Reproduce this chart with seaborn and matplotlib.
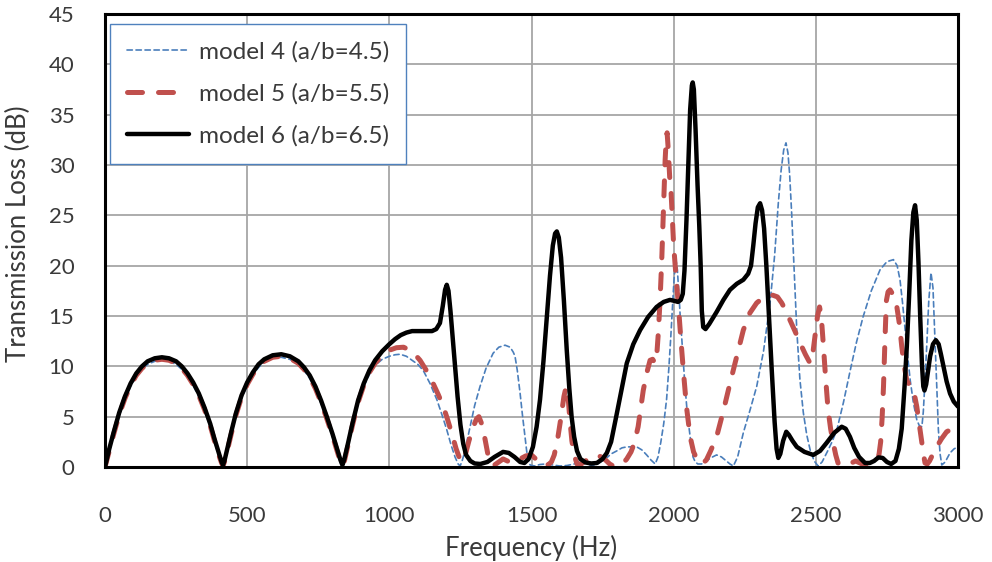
import numpy as np
import pandas as pd
import matplotlib
matplotlib.use('Agg')
import matplotlib.pyplot as plt
import seaborn as sns

# (frequency Hz, transmission loss dB)
model6 = [
    (0, 0), (15, 1.8), (30, 3.4), (50, 5.4), (70, 7.0), (90, 8.3), (110, 9.3), (130, 10.0), (150, 10.5),
    (175, 10.8), (200, 10.9), (225, 10.8), (250, 10.5), (270, 10.0), (290, 9.3), (310, 8.4), (330, 7.3),
    (350, 5.9), (370, 4.3), (385, 2.8), (400, 1.4), (410, 0.5), (415, 0.2), (420, 0.6), (430, 1.8),
    (445, 3.6), (460, 5.3), (480, 7.1), (500, 8.4), (520, 9.4), (540, 10.2), (560, 10.7), (590, 11.1),
    (620, 11.2), (650, 11.0), (680, 10.5), (700, 9.9), (720, 9.1), (740, 8.0), (760, 6.6), (780, 5.0),
    (800, 3.3), (815, 1.9), (828, 0.7), (835, 0.2), (842, 0.8), (855, 2.4), (870, 4.3), (890, 6.6),
    (910, 8.3), (930, 9.6), (950, 10.6), (975, 11.5), (1000, 12.2), (1020, 12.7), (1040, 13.1),
    (1060, 13.35), (1080, 13.5), (1120, 13.5), (1150, 13.5), (1165, 13.7), (1178, 14.3), (1188, 16.0),
    (1196, 17.6), (1202, 18.1), (1208, 17.5), (1215, 15.5), (1223, 12.8), (1231, 10.2), (1240, 7.0),
    (1250, 4.2), (1260, 2.3), (1270, 1.2), (1285, 0.6), (1300, 0.35), (1320, 0.3), (1345, 0.5),
    (1370, 1.0), (1400, 1.5), (1420, 1.4), (1440, 1.0), (1460, 0.5), (1475, 0.4), (1490, 0.8),
    (1505, 2.0), (1518, 4.0), (1530, 6.7), (1542, 10.5), (1554, 15.0), (1565, 19.0), (1575, 22.0),
    (1583, 23.2), (1589, 23.4), (1596, 22.8), (1604, 20.8), (1614, 16.5), (1624, 11.6), (1633, 7.8),
    (1641, 5.0), (1650, 3.0), (1660, 1.6), (1672, 0.8), (1690, 0.45), (1710, 0.35), (1730, 0.4),
    (1750, 0.8), (1765, 1.4), (1780, 2.5), (1800, 5.3), (1818, 7.9), (1835, 10.3), (1858, 12.2),
    (1882, 13.6), (1910, 14.9), (1940, 15.9), (1965, 16.4), (1987, 16.6), (2003, 16.5), (2015, 16.4),
    (2025, 16.6), (2032, 17.2), (2038, 19.5), (2045, 24.5), (2052, 30.5), (2058, 35.5), (2064, 37.9),
    (2067, 38.2), (2071, 37.5), (2077, 33.5), (2084, 28.0), (2090, 24.0), (2095, 20.0), (2099, 15.5),
    (2104, 13.9), (2112, 13.7), (2125, 14.2), (2140, 14.9), (2151, 15.4), (2175, 16.6), (2198, 17.6),
    (2222, 18.2), (2245, 18.6), (2262, 19.2), (2272, 20.0), (2280, 22.0), (2288, 24.2), (2296, 25.8),
    (2304, 26.2), (2311, 25.5), (2318, 23.7), (2326, 20.0), (2335, 15.0), (2345, 9.6), (2355, 4.5),
    (2362, 1.8), (2368, 0.9), (2375, 1.3), (2385, 2.6), (2396, 3.5), (2405, 3.2), (2418, 2.6),
    (2433, 2.0), (2460, 1.5), (2491, 1.2), (2515, 1.6), (2538, 2.4), (2565, 3.4), (2591, 4.0),
    (2605, 3.8), (2620, 3.0), (2635, 1.9), (2652, 1.0), (2673, 0.4), (2690, 0.4), (2705, 0.6),
    (2720, 0.95), (2735, 0.9), (2750, 0.5), (2765, 0.3), (2780, 0.6), (2792, 1.8), (2802, 3.8),
    (2812, 8.0), (2820, 12.0), (2828, 17.0), (2836, 22.5), (2843, 25.3), (2849, 26.0), (2855, 24.5),
    (2861, 20.3), (2867, 15.0), (2873, 10.3), (2878, 8.0), (2882, 7.6), (2888, 8.2), (2895, 9.6),
    (2902, 11.0), (2912, 12.2), (2922, 12.6), (2932, 12.2), (2940, 11.2), (2949, 10.0), (2960, 8.5),
    (2972, 7.3), (2985, 6.5), (3000, 6.0)]

model5 = [
    (0, 0), (15, 1.6), (30, 3.2), (50, 5.2), (70, 6.8), (90, 8.1), (110, 9.1), (130, 9.8), (150, 10.3),
    (175, 10.6), (200, 10.7), (225, 10.6), (250, 10.3), (270, 9.8), (290, 9.1), (310, 8.2), (330, 7.1),
    (350, 5.7), (370, 4.1), (385, 2.6), (400, 1.2), (410, 0.4), (415, 0.1), (420, 0.5), (430, 1.6),
    (445, 3.4), (460, 5.1), (480, 6.9), (500, 8.2), (520, 9.2), (540, 10.0), (560, 10.5), (590, 10.9),
    (620, 11.0), (650, 10.8), (680, 10.3), (700, 9.7), (720, 8.9), (740, 7.8), (760, 6.4), (780, 4.8),
    (800, 3.1), (815, 1.7), (828, 0.5), (835, 0.1), (842, 0.6), (855, 2.2), (870, 4.1), (890, 6.4),
    (910, 8.1), (930, 9.4), (950, 10.3), (975, 11.1), (1000, 11.6), (1025, 11.85), (1050, 11.9),
    (1080, 11.5), (1108, 10.6), (1130, 9.6), (1154, 8.3), (1172, 7.2), (1190, 6.0), (1205, 4.7),
    (1219, 3.4), (1235, 1.8), (1249, 0.7), (1258, 0.5), (1268, 1.3), (1280, 2.6), (1295, 4.0),
    (1307, 4.8), (1315, 5.0), (1326, 4.2), (1337, 2.7), (1347, 1.2), (1355, 0.3), (1370, 0.2),
    (1385, 0.5), (1400, 0.8), (1415, 0.6), (1430, 0.4), (1445, 0.5), (1460, 0.8), (1480, 1.1),
    (1500, 1.2), (1515, 0.8), (1530, 0.3), (1545, 0.15), (1560, 0.25), (1570, 0.5), (1580, 1.2),
    (1592, 2.8), (1603, 4.8), (1614, 7.0), (1622, 8.0), (1628, 7.2), (1635, 4.7), (1642, 2.6),
    (1650, 1.2), (1660, 0.3), (1675, 0.3), (1690, 0.6), (1710, 1.0), (1729, 1.2), (1745, 1.0),
    (1760, 0.7), (1775, 0.3), (1787, 0.1), (1805, 0.1), (1820, 0.3), (1835, 0.8), (1850, 1.5),
    (1862, 2.4), (1875, 4.0), (1893, 7.6), (1905, 9.3), (1917, 10.6), (1926, 10.7), (1935, 10.3),
    (1941, 11.3), (1946, 13.3), (1952, 16.5), (1958, 20.5), (1964, 25.5), (1970, 30.5), (1974, 32.7),
    (1977, 33.2), (1981, 31.5), (1986, 28.8), (1990, 27.8), (1994, 25.5), (2000, 22.0), (2008, 19.0),
    (2016, 16.3), (2025, 12.8), (2034, 9.6), (2045, 6.0), (2058, 3.0), (2070, 1.5), (2085, 0.6),
    (2100, 0.3), (2115, 0.7), (2130, 1.6), (2151, 3.0), (2175, 5.6), (2198, 8.3), (2222, 11.0),
    (2245, 13.6), (2268, 15.3), (2292, 16.3), (2318, 16.9), (2345, 17.1), (2365, 16.9), (2380, 16.3),
    (2395, 15.5), (2409, 14.6), (2425, 13.6), (2445, 12.3), (2463, 11.2), (2480, 10.3), (2489, 11.2),
    (2497, 13.0), (2506, 15.0), (2513, 15.9), (2519, 15.0), (2526, 12.3), (2534, 9.0), (2543, 5.7),
    (2552, 3.8), (2561, 2.4), (2570, 1.2), (2578, 0.4), (2595, 0.15), (2610, 0.2), (2625, 0.4),
    (2640, 0.6), (2655, 0.4), (2670, 0.2), (2685, 0.4), (2702, 0.9), (2715, 0.9), (2722, 1.2),
    (2728, 2.5), (2733, 4.8), (2738, 8.0), (2743, 12.5), (2748, 16.5), (2754, 17.4), (2761, 17.6),
    (2772, 17.1), (2785, 15.9), (2795, 14.0), (2802, 12.0), (2811, 10.0), (2820, 8.6), (2828, 8.2),
    (2837, 8.0), (2846, 7.3), (2855, 6.0), (2864, 4.2), (2873, 2.4), (2879, 1.2), (2884, 0.4),
    (2892, 0.3), (2900, 0.6), (2912, 1.3), (2925, 2.0), (2942, 2.8), (2960, 3.5), (2980, 3.8),
    (3000, 3.8)]

model4 = [
    (0, 0), (15, 1.5), (30, 3.1), (50, 5.1), (70, 6.7), (90, 8.0), (110, 9.0), (130, 9.7), (150, 10.2),
    (175, 10.5), (200, 10.6), (225, 10.5), (250, 10.2), (270, 9.7), (290, 9.0), (310, 8.1), (330, 7.0),
    (350, 5.6), (370, 4.0), (385, 2.5), (400, 1.1), (410, 0.3), (415, 0.05), (420, 0.4), (430, 1.5),
    (445, 3.3), (460, 5.0), (480, 6.8), (500, 8.1), (520, 9.1), (540, 9.9), (560, 10.4), (590, 10.8),
    (620, 10.9), (650, 10.7), (680, 10.2), (700, 9.6), (720, 8.8), (740, 7.7), (760, 6.3), (780, 4.7),
    (800, 3.0), (815, 1.6), (828, 0.4), (835, 0.05), (842, 0.5), (855, 2.1), (870, 4.0), (890, 6.3),
    (910, 8.0), (930, 9.2), (950, 10.1), (975, 10.7), (1000, 11.0), (1020, 11.15), (1038, 11.2),
    (1060, 11.0), (1080, 10.6), (1100, 10.2), (1119, 9.6), (1143, 8.3), (1167, 6.7), (1185, 5.2),
    (1202, 3.7), (1217, 2.2), (1231, 1.0), (1242, 0.3), (1249, 0.1), (1256, 0.6), (1265, 1.5),
    (1275, 2.8), (1284, 4.0), (1300, 6.1), (1319, 8.0), (1340, 9.8), (1365, 11.3), (1385, 11.9),
    (1407, 12.1), (1425, 11.9), (1436, 11.4), (1442, 11.0), (1450, 9.6), (1460, 7.3), (1468, 5.2),
    (1477, 3.0), (1483, 1.6), (1488, 0.7), (1495, 0.2), (1510, 0.1), (1530, 0.25), (1550, 0.3),
    (1575, 0.2), (1600, 0.1), (1625, 0.15), (1650, 0.3), (1668, 0.6), (1682, 0.7), (1695, 0.4),
    (1710, 0.1), (1735, 0.35), (1760, 0.8), (1780, 1.3), (1800, 1.6), (1818, 1.9), (1835, 2.0),
    (1853, 2.0), (1870, 2.0), (1888, 1.7), (1905, 1.2), (1920, 0.7), (1935, 0.3), (1945, 1.0),
    (1955, 2.5), (1965, 4.3), (1975, 6.7), (1983, 9.8), (1990, 13.0), (1996, 16.0), (2001, 18.5),
    (2006, 20.2), (2009, 20.4), (2013, 19.6), (2018, 17.4), (2023, 15.0), (2028, 13.0), (2034, 10.4),
    (2040, 8.0), (2048, 5.3), (2058, 3.0), (2068, 1.0), (2076, 0.5), (2085, 0.3), (2098, 0.3),
    (2110, 0.5), (2130, 0.9), (2151, 1.2), (2168, 1.0), (2185, 0.6), (2198, 0.3), (2210, 0.1),
    (2225, 1.0), (2245, 3.4), (2268, 5.6), (2292, 8.0), (2316, 11.5), (2339, 16.3), (2355, 21.0),
    (2368, 26.2), (2378, 29.5), (2387, 31.5), (2395, 32.2), (2402, 31.2), (2408, 29.0), (2415, 25.2),
    (2424, 19.5), (2433, 13.6), (2444, 8.7), (2456, 5.4), (2468, 3.2), (2480, 1.7), (2494, 0.6),
    (2508, 0.1), (2522, 0.5), (2540, 1.5), (2557, 2.5), (2574, 3.7), (2597, 6.4), (2621, 9.6),
    (2643, 12.4), (2666, 14.9), (2695, 17.5), (2726, 19.6), (2750, 20.4), (2773, 20.6), (2786, 20.0),
    (2796, 18.6), (2805, 16.3), (2814, 13.6), (2823, 11.0), (2832, 8.6), (2843, 6.4), (2855, 4.7),
    (2864, 4.1), (2873, 4.0), (2878, 5.5), (2884, 8.6), (2890, 12.0), (2897, 16.4), (2905, 19.3),
    (2912, 17.8), (2920, 12.0), (2926, 7.5), (2931, 3.7), (2937, 1.3), (2943, 0.2), (2955, 0.5),
    (2972, 1.4), (2986, 1.8), (3000, 2.0)]

labels = ['model 4 (a/b=4.5)', 'model 5 (a/b=5.5)', 'model 6 (a/b=6.5)']
x_ticks = [0, 500, 1000, 1500, 2000, 2500, 3000]
y_ticks = [0, 5, 10, 15, 20, 25, 30, 35, 40, 45]

sns.set_theme(style='whitegrid')
plt.rcParams['font.family'] = ['Lato', 'DejaVu Sans']

fig, ax = plt.subplots(figsize=(9.92, 5.62), dpi=100)
fig.subplots_adjust(left=105 / 992, right=958 / 992, bottom=1 - 467 / 562, top=1 - 14 / 562)

styles = [
    dict(color='#4a7ebb', lw=1.2, linestyle=(0, (3.2, 2.2))),
    dict(color='#c0504d', lw=3.6, linestyle=(0, (3.0, 3.2))),
    dict(color='black', lw=3.2, linestyle='-'),
]
for data, lab, st in zip([model4, model5, model6], labels, styles):
    df = pd.DataFrame(data, columns=['freq', 'tl'])
    sns.lineplot(data=df, x='freq', y='tl', ax=ax, label=lab, estimator=None, sort=False, **st)

for ln in ax.get_lines():
    ln.set_dash_capstyle('round')
    ln.set_solid_joinstyle('round')
    ln.set_solid_capstyle('round')

ax.set_xlim(0, 3000)
ax.set_ylim(0, 45)
ax.set_xticks(x_ticks)
ax.set_yticks(y_ticks)
ax.grid(True, color='#a6a6a6', lw=1.3)
ax.set_facecolor('white')
for s in ax.spines.values():
    s.set_color('black')
    s.set_linewidth(2.2)
ax.tick_params(axis='both', length=0, labelsize=16, colors='#3a3a3a')
ax.tick_params(axis='y', pad=22)
ax.tick_params(axis='x', pad=28)
ax.set_xlabel('')
ax.set_ylabel('')

fig.text(18 / 992, 1 - 234 / 562, 'Transmission Loss (dB)', rotation=90, ha='center', va='center',
         fontsize=18.5, color='#3a3a3a')
fig.text(531 / 992, 1 - 548 / 562, 'Frequency (Hz)', ha='center', va='center',
         fontsize=18.5, color='#3a3a3a')

leg = ax.legend(loc='upper left', bbox_to_anchor=(0.006, 0.978), borderaxespad=0, fontsize=17.5,
                frameon=True, fancybox=False, handlelength=2.55, handletextpad=0.4,
                labelspacing=0.85, borderpad=0.7, framealpha=1)
leg.get_frame().set_edgecolor('#4f81bd')
leg.get_frame().set_linewidth(1.0)
for t in leg.get_texts():
    t.set_color('#3a3a3a')

plt.savefig('out.png', dpi=100)
